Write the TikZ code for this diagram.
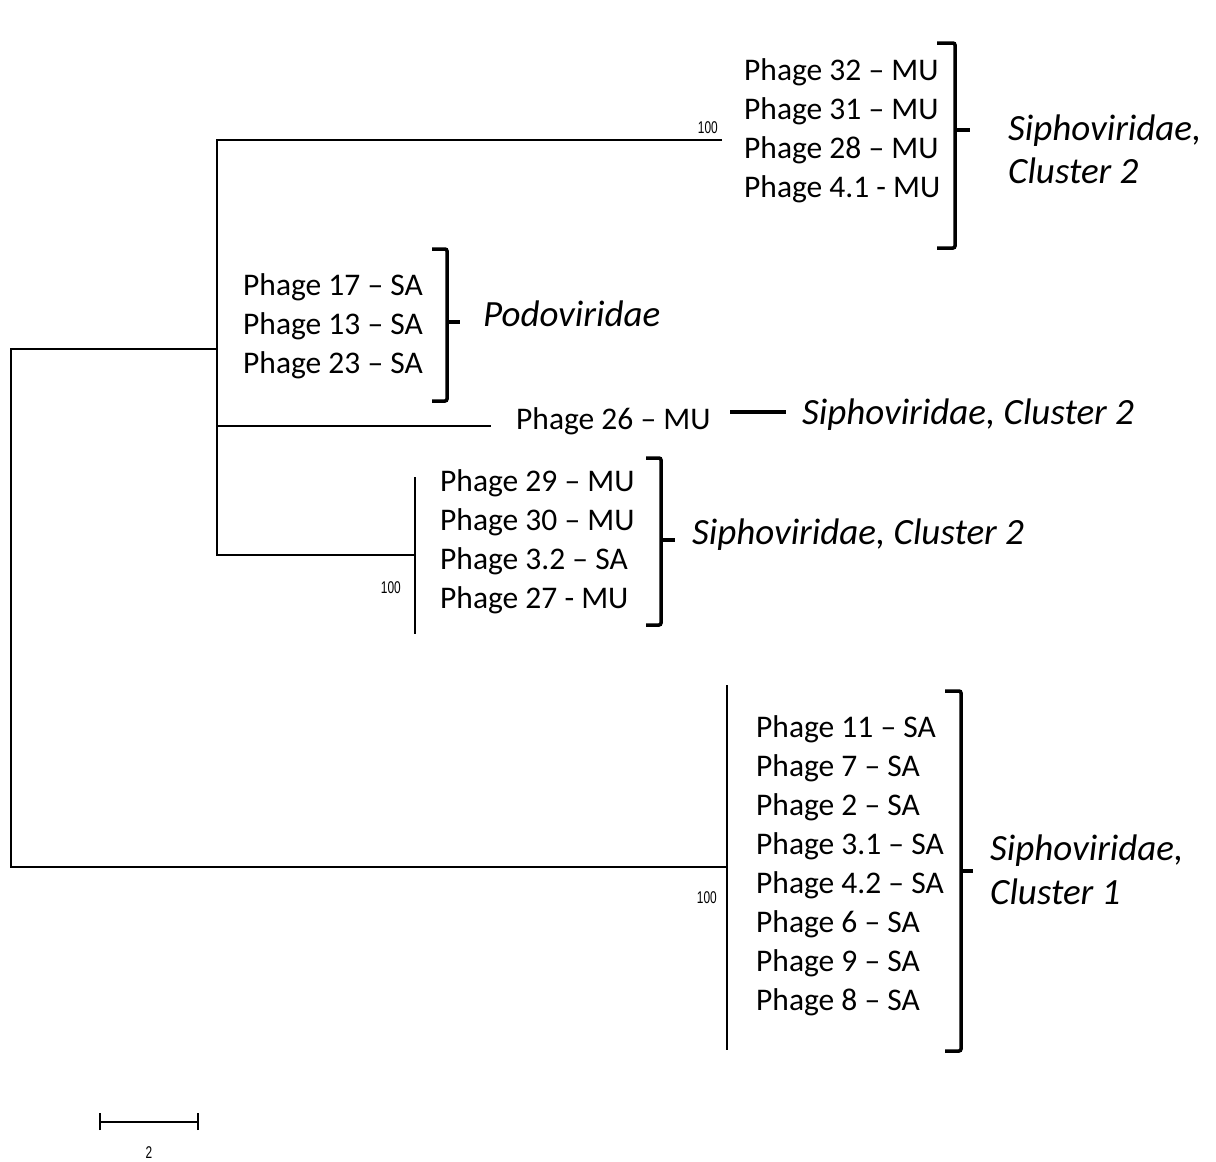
\documentclass[tikz,border=0pt]{standalone}
\usepackage{fontspec}
\setmainfont{Carlito}
\newfontfamily\bootfont[FakeStretch=0.7]{Liberation Sans}
\usetikzlibrary{positioning}

\begin{document}
\begin{tikzpicture}[
    x=1pt, y=-1pt,
    leaf/.style={anchor=base west, inner sep=0pt, font=\fontsize{31.5}{38}\selectfont},
    clade/.style={leaf, font=\fontsize{37}{44}\selectfont\itshape},
    branch/.style={line width=1.4pt},
    brace/.style={line width=3.5pt, rounded corners=2pt},
    boot/.style={anchor=base east, inner sep=0pt, font=\bootfont\fontsize{17}{17}\selectfont}
]
    \useasboundingbox (0,0) rectangle (1216,1162);

    % tree points
    \coordinate (n1) at (217,349);
    \coordinate (n1b) at (217,555);
    \coordinate (rb) at (11,867);
    \coordinate (t1) at (722,140);
    \coordinate (t26) at (491,426);
    \coordinate (c3) at (415,555);
    \coordinate (c3t) at (415,477);
    \coordinate (c3b) at (415,634);
    \coordinate (c4) at (727,867);
    \coordinate (c4t) at (727,685);
    \coordinate (c4b) at (727,1050);

    \draw[branch] (n1) -| (rb) -- (c4);
    \draw[branch] (t1) -| (n1b) -- (c3);
    \draw[branch] (n1 |- t26) -- (t26);
    \draw[branch] (c3t) -- (c3b);
    \draw[branch] (c4t) -- (c4b);

    % bootstrap values
    \node[boot] (b1) at (718,133) {100};
    \node[boot] (b3) at (401,593) {100};
    \node[boot] (b4) at (717,903) {100};

    % leaves
    \foreach \txt [count=\i] in {Phage 32 -- MU, Phage 31 -- MU, Phage 28 -- MU, Phage 4.1 - MU}
        \node[leaf] (a\i) at (744,41+39*\i) {\txt};
    \foreach \txt [count=\i] in {Phage 17 -- SA, Phage 13 -- SA, Phage 23 -- SA}
        \node[leaf] (p\i) at (243,256+39*\i) {\txt};
    \node[leaf] (q26) at (516,429) {Phage 26 -- MU};
    \foreach \txt [count=\i] in {Phage 29 -- MU, Phage 30 -- MU, Phage 3.2 -- SA, Phage 27 - MU}
        \node[leaf] (g\i) at (440,452+39*\i) {\txt};
    \foreach \txt [count=\i] in {Phage 11 -- SA, Phage 7 -- SA, Phage 2 -- SA, Phage 3.1 -- SA,
        Phage 4.2 -- SA, Phage 6 -- SA, Phage 9 -- SA, Phage 8 -- SA}
        \node[leaf] (s\i) at (756,698+39*\i) {\txt};

    % brackets
    \draw[brace] (937,43) -- (955,43) -- (955,248) -- (937,248);
    \draw[brace] (955,130) -- (970,130);
    \draw[brace] (432,249) -- (447,249) -- (447,401) -- (432,401);
    \draw[brace] (447,322) -- (460,322);
    \draw[brace] (646,458) -- (661,458) -- (661,625) -- (646,625);
    \draw[brace] (661,540) -- (675,540);
    \draw[brace] (945,691) -- (961,691) -- (961,1051) -- (945,1051);
    \draw[brace] (961,871) -- (973,871);
    \draw[line width=3.5pt] (730,412) -- (786,412);

    % clade names
    \node[clade] (k1a) at (1008,140) {Siphoviridae,};
    \node[clade] (k1b) at (1008,183) {Cluster 2};
    \node[clade] (k2) at (483,326) {Podoviridae};
    \node[clade] (k3) at (802,424) {Siphoviridae, Cluster 2};
    \node[clade] (k4) at (692,544) {Siphoviridae, Cluster 2};
    \node[clade] (k5a) at (990,860) {Siphoviridae,};
    \node[clade] (k5b) at (990,904) {Cluster 1};

    % scale bar
    \coordinate (sl) at (100,1122);
    \coordinate (sr) at (198,1122);
    \draw[branch] (sl) -- (sr);
    \draw[branch] ([yshift=-8pt]sl) -- ([yshift=9pt]sl);
    \draw[branch] ([yshift=-8pt]sr) -- ([yshift=9pt]sr);
    \node[boot, anchor=base] (sc) at (149,1158) {2};
\end{tikzpicture}
\end{document}
